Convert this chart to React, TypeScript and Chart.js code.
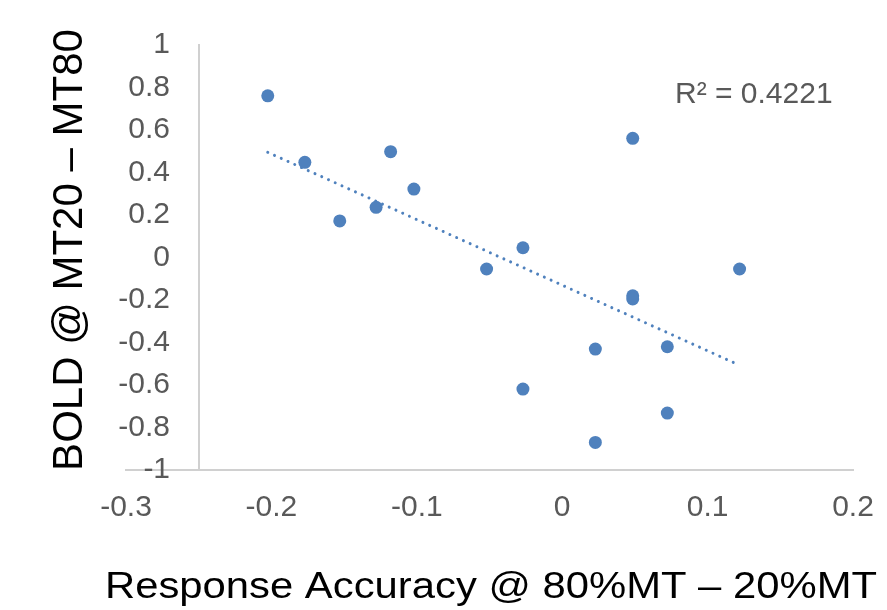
import React, { useEffect, useRef } from "react";
import { Chart, registerables } from "chart.js";

Chart.register(...registerables);

// ---- data ----
const POINT_X = [-0.2025, -0.177, -0.118, -0.102, -0.128, -0.153, -0.027, -0.052, 0.0485, 0.122, 0.0485, 0.0485, 0.0228, 0.0723, -0.027, 0.0723, 0.0228];
const POINT_Y = [0.761, 0.448, 0.498, 0.322, 0.236, 0.172, 0.046, -0.054, 0.561, -0.054, -0.18, -0.195, -0.431, -0.42, -0.619, -0.732, -0.87];
const TREND_X = [-0.2025, 0.122];
const TREND_Y = [0.495, -0.507];
const X_TICKS = [-0.3, -0.2, -0.1, 0, 0.1, 0.2];
const Y_TICKS = [-1, -0.8, -0.6, -0.4, -0.2, 0, 0.2, 0.4, 0.6, 0.8, 1];
const Y_AXIS_CROSS = -0.25;
const X_TITLE = "Response Accuracy @ 80%MT – 20%MT";
const Y_TITLE = "BOLD @ MT20 – MT80";
const R2_LABEL = "R² = 0.4221";

const FONT = "'Liberation Sans', Arial, sans-serif";
const BLUE = "#4F81BD";
const TICK_COLOR = "#595959";
const AXIS_COLOR = "#D0D0D0";
const Y_LABEL_EDGE = -0.2697; // x value where the y tick labels end (right-aligned)

const textPlugin = {
  id: "textPlugin",
  afterDraw(chart: any) {
    const { ctx, chartArea } = chart;
    // Y title (rotated)
    ctx.save();
    ctx.fillStyle = "#000000";
    ctx.font = `42px ${FONT}`;
    ctx.textAlign = "center";
    ctx.textBaseline = "alphabetic";
    ctx.translate(chartArea.left - 44, (chartArea.top + chartArea.bottom) / 2 - 7.5);
    ctx.rotate(-Math.PI / 2);
    ctx.fillText(Y_TITLE, 0, 0);
    ctx.restore();

    // X title
    ctx.save();
    ctx.fillStyle = "#000000";
    ctx.font = `37px ${FONT}`;
    ctx.textAlign = "center";
    ctx.textBaseline = "alphabetic";
    ctx.translate((chartArea.left + chartArea.right) / 2 + 1.5, chartArea.bottom + 128);
    ctx.scale(1.13, 1);
    ctx.fillText(X_TITLE, 0, 0);
    ctx.restore();

    // R² label
    ctx.save();
    ctx.fillStyle = TICK_COLOR;
    ctx.font = `30px ${FONT}`;
    ctx.textAlign = "left";
    ctx.textBaseline = "alphabetic";
    ctx.fillText(R2_LABEL, chartArea.right - 178, chartArea.top + 58);
    ctx.restore();
  },
};

export default function App() {
  const canvasRef = useRef<HTMLCanvasElement | null>(null);

  useEffect(() => {
    const canvas = canvasRef.current;
    if (!canvas) return;
    const points = POINT_X.map((x, i) => ({ x, y: POINT_Y[i] }));
    const trend = TREND_X.map((x, i) => ({ x, y: TREND_Y[i] }));

    const chart = new Chart(canvas, {
      type: "scatter",
      data: {
        datasets: [
          {
            label: "trend",
            data: trend,
            showLine: true,
            borderColor: BLUE,
            borderWidth: 3,
            borderDash: [0.001, 7.4],
            borderCapStyle: "round",
            pointRadius: 0,
            fill: false,
          } as any,
          {
            label: "data",
            data: points,
            pointRadius: 6.5,
            pointBackgroundColor: BLUE,
            pointBorderColor: BLUE,
            pointBorderWidth: 0,
            showLine: false,
          },
        ],
      },
      options: {
        animation: false,
        responsive: false,
        events: [],
        layout: { padding: { left: 126, right: 34, top: 45, bottom: 0 } },
        plugins: {
          legend: { display: false },
          tooltip: { enabled: false },
          title: { display: false },
        },
        scales: {
          x: {
            type: "linear",
            position: "bottom",
            min: -0.3,
            max: 0.2,
            grid: { display: false, drawTicks: true, tickLength: 19.5 },
            border: { display: true, color: AXIS_COLOR, width: 2 },
            afterBuildTicks: (s: any) => {
              s.ticks = X_TICKS.map((v) => ({ value: v }));
            },
            afterFit: (s: any) => {
              s.height = 140;
            },
            ticks: {
              autoSkip: false,
              maxRotation: 0,
              padding: 0,
              color: TICK_COLOR,
              font: { family: FONT, size: 30 },
              callback: (v: any) => String(v),
            },
          },
          y: {
            type: "linear",
            axis: "y",
            position: { x: Y_LABEL_EDGE },
            min: -1,
            max: 1,
            grid: { display: false, drawTicks: false },
            border: { display: false },
            afterBuildTicks: (s: any) => {
              s.ticks = Y_TICKS.map((v) => ({ value: v }));
            },
            ticks: {
              autoSkip: false,
              padding: 0,
              color: TICK_COLOR,
              font: { family: FONT, size: 30 },
              callback: (v: any) => String(v),
            },
          } as any,
          yline: {
            type: "linear",
            axis: "y",
            position: { x: Y_AXIS_CROSS },
            min: -1,
            max: 1,
            grid: { display: false, drawTicks: false },
            border: { display: true, color: AXIS_COLOR, width: 2 },
            ticks: { display: false },
          } as any,
        },
      },
      plugins: [textPlugin],
    });

    return () => chart.destroy();
  }, []);

  return (
    <div style={{ position: "absolute", left: 0, top: 0, width: 887, height: 610, background: "#ffffff" }}>
      <canvas ref={canvasRef} width={887} height={610} style={{ display: "block" }} />
    </div>
  );
}
